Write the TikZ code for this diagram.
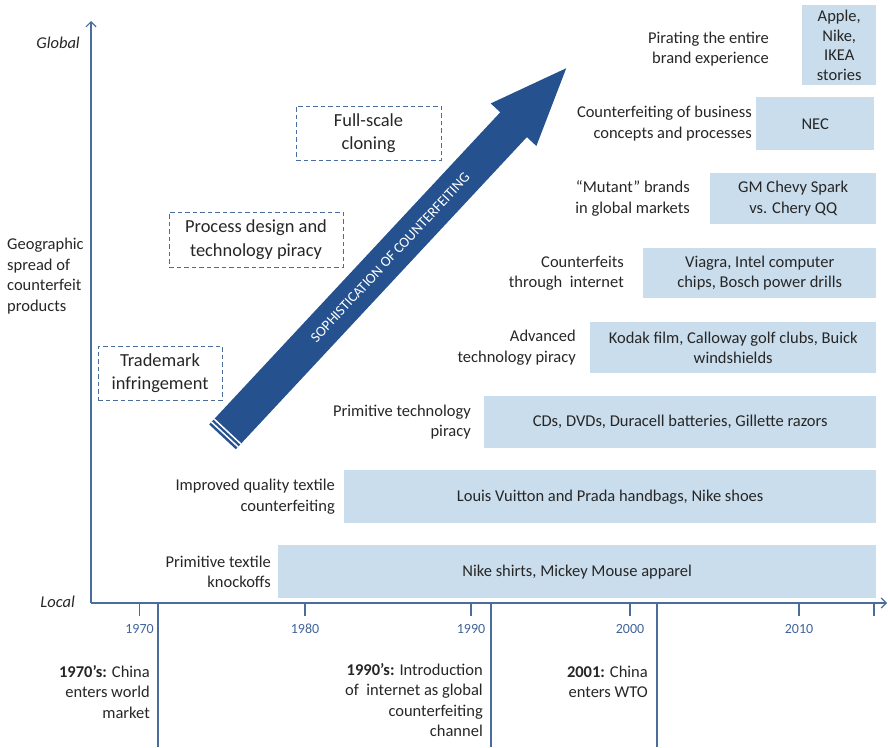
\documentclass[tikz,border=0pt]{standalone}
\usepackage{fontspec}
\setmainfont{Carlito}
\usetikzlibrary{calc, positioning, arrows.meta, shapes.arrows}
\definecolor{barBlue}{HTML}{CADDEC}
\definecolor{axisBlue}{HTML}{4A6D9E}
\definecolor{arrowBlue}{HTML}{25528F}
\definecolor{yearBlue}{HTML}{41649A}
\definecolor{inkGray}{HTML}{262626}

\tikzset{
  base/.style={font=\fontsize{16.5}{20.5}\selectfont, text=inkGray, inner sep=0pt},
  bar/.style={base, fill=barBlue, anchor=north west, align=center},
  cat/.style={base, align=right},
  stage/.style={base, draw=axisBlue, line width=1pt, dash pattern=on 4.5pt off 3pt,
                align=center, font=\fontsize{18.4}{23.5}\selectfont},
  axisline/.style={draw=axisBlue, line width=1.2pt},
  yearlbl/.style={font=\fontsize{14}{16}\selectfont, text=yearBlue},
  event/.style={base, align=right, anchor=east},
  bigarrow/.style={single arrow, fill=arrowBlue, minimum height=504pt,
                   text height=10pt, text depth=0pt, inner xsep=0pt, inner ysep=13pt,
                   single arrow head extend=13pt, single arrow tip angle=44,
                   single arrow head indent=0pt, text=white,
                   font=\fontsize{14.5}{16}\selectfont},
}

\begin{document}
\begin{tikzpicture}[x=1pt, y=-1pt]
  \useasboundingbox (0,0) rectangle (888,747);

  % axes
  \coordinate (O) at (91,603);
  \coordinate (ytop) at (91,21);
  \coordinate (xend) at (887,603);
  \draw[axisline, -{Straight Barb[length=5pt,width=10pt]}] (O) -- (ytop);
  \draw[axisline, -{Straight Barb[length=5pt,width=10pt]}] (O) -- (xend);
  \node[base, anchor=east, font=\fontsize{16.5}{20.5}\selectfont\itshape] (global) at (80,43) {Global};
  \node[base, anchor=east, font=\fontsize{16.5}{20.5}\selectfont\itshape] (local) at (75,602) {Local};
  \node[base, anchor=west, align=left] (geo) at (7,276) {Geographic\\spread of\\counterfeit\\products};

  % decades
  \foreach \x/\yr in {139.5/1970, 305/1980, 471/1990, 630/2000, 799/2010} {
    \draw[axisline] (\x,603) -- (\x,616);
    \node[yearlbl] at (\x,629) {\yr};
  }
  \draw[axisline] (874,603) -- (874,616);

  % events below the time line
  \foreach \x in {158, 491, 657}
    \draw[axisline] (\x,603) -- (\x,747);
  \node[event] (e70) at (150,692) {\textbf{1970’s:} China\\enters world\\market};
  \node[event] (e90) at (483,700) {\textbf{1990’s:} Introduction\\of\ \ internet as global\\counterfeiting\\channel};
  \node[event] (e01) at (648,682) {\textbf{2001:} China\\enters WTO};

  % examples per kind of counterfeiting
  \node[bar, minimum width=598, minimum height=53] (b1) at (278,545) {Nike shirts, Mickey Mouse apparel};
  \node[bar, minimum width=532, minimum height=53] (b2) at (344,470) {Louis Vuitton and Prada handbags, Nike shoes};
  \node[bar, minimum width=392, minimum height=52] (b3) at (484,396) {CDs, DVDs, Duracell batteries, Gillette razors};
  \node[bar, minimum width=286, minimum height=51] (b4) at (590,322) {Kodak film, Calloway golf clubs, Buick\\windshields};
  \node[bar, minimum width=233, minimum height=50] (b5) at (643,248) {Viagra, Intel computer\\chips, Bosch power drills};
  \node[bar, minimum width=166, minimum height=51] (b6) at (710,173) {GM Chevy Spark\\vs. Chery QQ};
  \node[bar, minimum width=118, minimum height=53] (b7) at (756,97) {NEC};
  \node[bar, minimum width=74, minimum height=80, font=\fontsize{16.5}{19.5}\selectfont] (b8) at (802,5) {Apple,\\Nike,\\IKEA\\stories};

  \node[cat, left=7pt of b1] (c1) {Primitive textile\\knockoffs};
  \node[cat, left=9pt of b2] (c2) {Improved quality textile\\counterfeiting};
  \node[cat, left=13pt of b3] (c3) {Primitive technology\\piracy};
  \node[cat, left=14pt of b4] (c4) {Advanced\\technology piracy};
  \node[cat, left=19pt of b5] (c5) {Counterfeits\\through\ \ internet};
  \node[cat, left=20pt of b6] (c6) {“Mutant” brands\\in global markets};
  \node[cat, left=4pt of b7] (c7) {Counterfeiting of business\\concepts and processes};
  \node[cat, left=33pt of b8, yshift=-4pt] (c8) {Pirating the entire\\brand experience};

  % stages along the big arrow
  \node[stage, minimum width=145, minimum height=54] (full) at (368.5,133) {Full-scale\\cloning};
  \node[stage, minimum width=174, minimum height=55] (proc) at (256,239.5) {Process design and\\technology piracy};
  \node[stage, minimum width=124, minimum height=54] (trade) at (160,373) {Trademark\\infringement};

  \node[bigarrow, rotate=47] (soph) at (379,269) {\hspace*{32pt}SOPHISTICATION OF COUNTERFEITING};
  \foreach \d in {3.5pt, 7.5pt}
    \draw[white, line width=1.5pt] ($(soph.before tail)!\d!(soph.after head)$) -- ($(soph.after tail)!\d!(soph.before head)$);
\end{tikzpicture}
\end{document}
